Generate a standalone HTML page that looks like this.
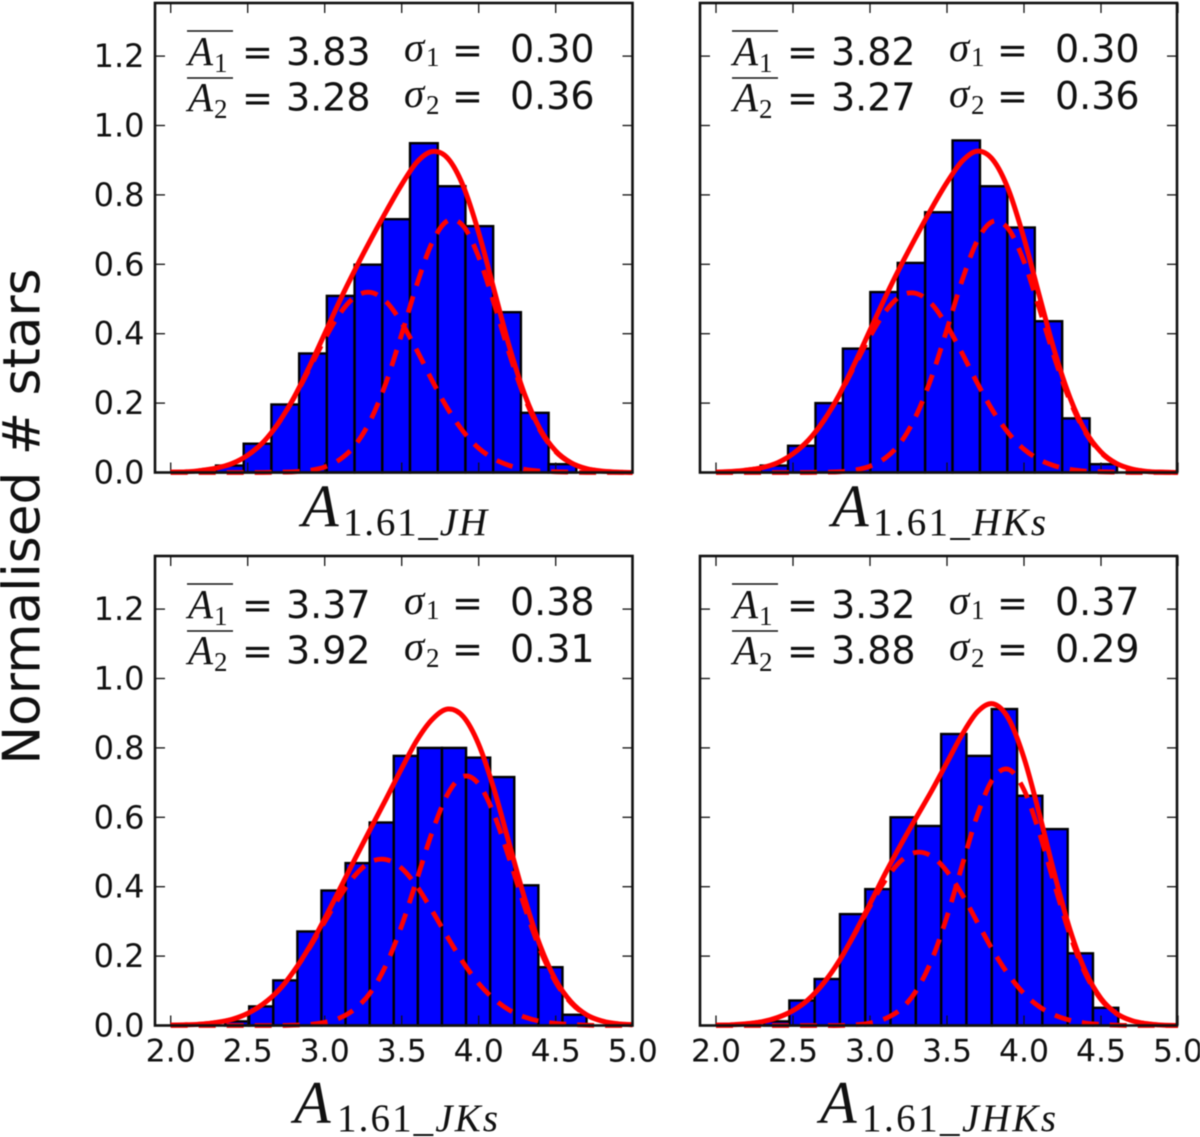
<!DOCTYPE html>
<html>
<head>
<meta charset="utf-8">
<title>Normalised extinction histograms</title>
<style>
html,body{margin:0;padding:0;background:#fff;width:1200px;height:1137px;overflow:hidden}
#chart{display:block;filter:blur(0.5px)}
</style>
</head>
<body>
<svg id="chart" xmlns="http://www.w3.org/2000/svg" width="1200" height="1137" viewBox="0 0 1200 1137">
<rect x="0" y="0" width="1200" height="1137" fill="#fff"/>
</svg>
<script>
// ---------- tick labels ----------
const xTickValues = [2.0, 2.5, 3.0, 3.5, 4.0, 4.5, 5.0];
const xTickLabels = ['2.0', '2.5', '3.0', '3.5', '4.0', '4.5', '5.0'];
const yTickValues = [0.0, 0.2, 0.4, 0.6, 0.8, 1.0, 1.2];
const yTickLabels = ['0.0', '0.2', '0.4', '0.6', '0.8', '1.0', '1.2'];

// ---------- shared x samples for the fitted curves ----------
const curveX = [2.0,2.1,2.2,2.3,2.4,2.5,2.6,2.7,2.8,2.9,3.0,3.1,3.2,3.3,3.4,3.5,3.6,3.7,3.8,3.9,4.0,4.1,4.2,4.3,4.4,4.5,4.6,4.7,4.8,4.9,5.0];

// ---------- histograms (first bin edge, bin width, normalised heights) ----------
const binStartJH = 2.294;
const binWidthJH = 0.18;
const barsJH = [.02,.083,.196,.343,.509,.599,.73,.949,.825,.71,.462,.172,.024];

const binStartHKs = 2.29;
const binWidthHKs = 0.178;
const barsHKs = [.02,.077,.2,.357,.52,.604,.75,.957,.825,.706,.436,.156,.024];

const binStartJKs = 2.353;
const binWidthJKs = 0.1565;
const barsJKs = [.012,.055,.13,.271,.389,.468,.585,.777,.80,.80,.772,.716,.404,.168,.031];

const binStartJHKs = 2.312;
const binWidthJHKs = 0.1643;
const barsJHKs = [.012,.072,.134,.321,.393,.60,.575,.84,.777,.912,.662,.566,.208,.051];

// ---------- fitted curves ----------
const totalJH = [.001,.002,.006,.013,.026,.050,.087,.143,.216,.304,.400,.497,.587,.672,.753,.830,.895,.925,.905,.825,.691,.526,.361,.223,.124,.062,.028,.011,.004,.001,0];
const lowJH = [.001,.002,.006,.013,.026,.050,.087,.142,.214,.298,.384,.459,.507,.519,.492,.431,.351,.263,.183,.118,.070,.039,.020,.009,.004,.002,.001,0,0,0,0];
const highJH = [0,0,0,0,0,0,0,.001,.002,.006,.016,.038,.080,.153,.261,.399,.544,.665,.726,.710,.621,.487,.341,.214,.120,.060,.027,.011,.004,.001,0];

const totalHKs = [.001,.003,.007,.014,.028,.054,.093,.150,.224,.314,.410,.506,.596,.680,.761,.836,.898,.926,.900,.814,.675,.509,.347,.214,.118,.059,.026,.010,.003,.001,0];
const lowHKs = [.001,.003,.007,.014,.028,.054,.093,.149,.222,.307,.392,.464,.509,.516,.486,.423,.342,.255,.176,.113,.067,.037,.019,.009,.004,.002,.001,0,0,0,0];
const highHKs = [0,0,0,0,0,0,0,.001,.002,.007,.018,.042,.087,.164,.275,.413,.556,.671,.724,.701,.608,.472,.328,.205,.114,.057,.025,.010,.003,.001,0];

const totalJKs = [.001,.002,.004,.009,.018,.035,.062,.101,.157,.226,.308,.395,.483,.569,.654,.741,.823,.883,.912,.890,.810,.680,.521,.364,.229,.131,.068,.031,.013,.005,.002];
const lowJKs = [.001,.002,.004,.009,.018,.035,.062,.101,.156,.223,.299,.373,.434,.472,.478,.453,.400,.329,.253,.181,.121,.076,.044,.024,.012,.006,.003,.001,0,0,0];
const highJKs = [0,0,0,0,0,0,0,0,.001,.003,.009,.022,.049,.097,.176,.288,.423,.560,.668,.718,.696,.608,.479,.340,.217,.125,.065,.030,.013,.005,.002];

const totalJHKs = [.001,.002,.005,.011,.023,.043,.075,.123,.186,.265,.351,.439,.521,.599,.676,.758,.840,.905,.927,.884,.771,.609,.433,.274,.155,.078,.035,.014,.005,.001,0];
const lowJHKs = [.001,.002,.005,.011,.023,.043,.075,.123,.186,.263,.344,.419,.474,.499,.488,.444,.376,.295,.215,.146,.092,.054,.030,.015,.007,.003,.001,0,0,0,0];
const highJHKs = [0,0,0,0,0,0,0,0,0,.002,.007,.020,.047,.100,.188,.314,.464,.610,.712,.738,.679,.555,.403,.259,.148,.075,.034,.014,.005,.001,0];

// ---------- printed fit results ----------
const meanTextJH = ['3.83', '3.28'];
const sigmaTextJH = ['0.30', '0.36'];
const meanTextHKs = ['3.82', '3.27'];
const sigmaTextHKs = ['0.30', '0.36'];
const meanTextJKs = ['3.37', '3.92'];
const sigmaTextJKs = ['0.38', '0.31'];
const meanTextJHKs = ['3.32', '3.88'];
const sigmaTextJHKs = ['0.37', '0.29'];

// ---------- panel layout ----------
const svg = document.getElementById('chart');
const NS = 'http://www.w3.org/2000/svg';
const SANS = '"DejaVu Sans","Liberation Sans",sans-serif';
const SERIF = '"Liberation Serif","DejaVu Serif",serif';

const panels = [
  {key:'jh', left:155, right:632.5, top:3, base:472.5, x2:170.7, bins:barsJH, start:binStartJH, width:binWidthJH, total:totalJH, low:lowJH, high:highJH, means:meanTextJH, sigmas:sigmaTextJH, sub:'JH', labelX:302, subX:343, subEnd:487, labelY:526.7, subY:535, dx:0, dy:0, xLabels:false},
  {key:'hks', left:700, right:1177, top:3, base:472.5, x2:716, bins:barsHKs, start:binStartHKs, width:binWidthHKs, total:totalHKs, low:lowHKs, high:highHKs, means:meanTextHKs, sigmas:sigmaTextHKs, sub:'HKs', labelX:832, subX:873, subEnd:1046, labelY:526.7, subY:535, dx:545, dy:0, xLabels:false},
  {key:'jks', left:155, right:632.5, top:556, base:1025.5, x2:170.7, bins:barsJKs, start:binStartJKs, width:binWidthJKs, total:totalJKs, low:lowJKs, high:highJKs, means:meanTextJKs, sigmas:sigmaTextJKs, sub:'JKs', labelX:294, subX:337, subEnd:498, labelY:1123, subY:1131, dx:0, dy:553, xLabels:true},
  {key:'jhks', left:700, right:1177, top:556, base:1025.5, x2:716, bins:barsJHKs, start:binStartJHKs, width:binWidthJHKs, total:totalJHKs, low:lowJHKs, high:highJHKs, means:meanTextJHKs, sigmas:sigmaTextJHKs, sub:'JHKs', labelX:820, subX:862, subEnd:1056, labelY:1123, subY:1131, dx:545, dy:553, xLabels:true}
];

const X_UNIT = 154;
const Y_UNIT = 347;

function xScale(p, v) { return p.x2 + X_UNIT * (v - 2); }
function yScale(p, v) { return p.base - Y_UNIT * v; }

function make(tag, attrs, parent, content) {
  const node = document.createElementNS(NS, tag);
  for (const k in attrs) node.setAttribute(k, attrs[k]);
  if (content !== undefined) node.textContent = content;
  parent.appendChild(node);
  return node;
}

function smoothPath(p, xs, ys) {
  const pts = xs.map((x, i) => [xScale(p, x), yScale(p, ys[i])]);
  let d = 'M' + pts[0][0].toFixed(2) + ' ' + pts[0][1].toFixed(2);
  for (let i = 0; i < pts.length - 1; i++) {
    const a = pts[Math.max(i - 1, 0)], b = pts[i], c = pts[i + 1], e = pts[Math.min(i + 2, pts.length - 1)];
    const c1x = b[0] + (c[0] - a[0]) / 6, c1y = b[1] + (c[1] - a[1]) / 6;
    const c2x = c[0] - (e[0] - b[0]) / 6, c2y = c[1] - (e[1] - b[1]) / 6;
    d += 'C' + c1x.toFixed(2) + ' ' + c1y.toFixed(2) + ' ' + c2x.toFixed(2) + ' ' + c2y.toFixed(2) + ' ' + c[0].toFixed(2) + ' ' + c[1].toFixed(2);
  }
  return d;
}

function drawPanel(p) {
  const g = make('g', {}, svg);
  
  

  const bg = make('rect', {x:p.left, y:p.top, width:p.right - p.left, height:p.base - p.top, fill:'#fff'}, g);
  
  

  // histogram bars
  p.bins.forEach((h, i) => {
    const x0 = xScale(p, p.start + i * p.width);
    const x1 = xScale(p, p.start + (i + 1) * p.width);
    const y0 = yScale(p, h);
    const bar = make('rect', {x:x0, y:y0, width:x1 - x0, height:p.base - y0, fill:'#0000ff', stroke:'#000', 'stroke-width':2.4}, g);
    
    
  });

  // ticks
  xTickValues.forEach((v, i) => {
    const x = xScale(p, v);
    const bottomTick = make('line', {x1:x, x2:x, y1:p.base, y2:p.base - 10, stroke:'#111', 'stroke-width':1.3}, g);
    
    
    const topTick = make('line', {x1:x, x2:x, y1:p.top, y2:p.top + 10, stroke:'#111', 'stroke-width':1.3}, g);
    
    
    if (p.xLabels) {
      const label = make('text', {x:x, y:1061.5, 'text-anchor':'middle', 'font-family':SANS, 'font-size':31.5, fill:'#111'}, g, xTickLabels[i]);
      
      
    }
  });
  yTickValues.forEach((v, i) => {
    const y = yScale(p, v);
    const leftTick = make('line', {x1:p.left, x2:p.left + 10, y1:y, y2:y, stroke:'#111', 'stroke-width':1.3}, g);
    
    
    const rightTick = make('line', {x1:p.right, x2:p.right - 10, y1:y, y2:y, stroke:'#111', 'stroke-width':1.3}, g);
    
    
    if (p.left < 200) {
      const label = make('text', {x:144.5, y:y + 11, 'text-anchor':'end', 'font-family':SANS, 'font-size':32, fill:'#111'}, g, yTickLabels[i]);
      
      
    }
  });

  // fitted curves
  const lowLine = make('path', {d:smoothPath(p, curveX, p.low), fill:'none', stroke:'#ff0000', 'stroke-width':4.8, 'stroke-dasharray':'17 11'}, g);
  
  
  const highLine = make('path', {d:smoothPath(p, curveX, p.high), fill:'none', stroke:'#ff0000', 'stroke-width':4.8, 'stroke-dasharray':'17 11'}, g);
  
  
  const totalLine = make('path', {d:smoothPath(p, curveX, p.total), fill:'none', stroke:'#ff0000', 'stroke-width':5}, g);
  
  

  // axes frame
  const frame = make('rect', {x:p.left, y:p.top, width:p.right - p.left, height:p.base - p.top, fill:'none', stroke:'#111', 'stroke-width':2.6}, g);
  
  

  // annotation block
  const rows = [{bar:31, a:65, sub:72, n:65, eq:65, s:61, ss:66, v:62}, {bar:78, a:111, sub:118, n:110.5, eq:111, s:107, ss:114, v:109}];
  rows.forEach((r, i) => {
    const group = make('g', {}, g);
    
    
    const over = make('line', {x1:187 + p.dx, x2:233 + p.dx, y1:r.bar + p.dy, y2:r.bar + p.dy, stroke:'#111', 'stroke-width':1.6}, group);
    
    
    const meanSym = make('text', {x:188 + p.dx, y:r.a + p.dy, 'font-family':SERIF, 'font-style':'italic', 'font-size':41, fill:'#111'}, group, 'A');
    
    
    const meanIdx = make('text', {x:214 + p.dx, y:r.sub + p.dy, 'font-family':SERIF, 'font-size':27, fill:'#111'}, group, String(i + 1));
    
    
    const eqA = make('text', {x:242 + p.dx, y:r.eq + p.dy, 'font-family':SANS, 'font-size':37, fill:'#111'}, group, '=');
    
    
    const meanVal = make('text', {x:286 + p.dx, y:r.n + p.dy, 'font-family':SANS, 'font-size':38, fill:'#111'}, group, p.means[i]);
    
    
    const sigSym = make('text', {x:404 + p.dx, y:r.s + p.dy, 'font-family':SERIF, 'font-style':'italic', 'font-size':41, fill:'#111'}, group, 'σ');
    
    
    const sigIdx = make('text', {x:426 + p.dx, y:r.ss + p.dy, 'font-family':SERIF, 'font-size':27, fill:'#111'}, group, String(i + 1));
    
    
    const eqS = make('text', {x:452 + p.dx, y:r.s + 2 + p.dy, 'font-family':SANS, 'font-size':37, fill:'#111'}, group, '=');
    
    
    const sigVal = make('text', {x:510 + p.dx, y:r.v + p.dy, 'font-family':SANS, 'font-size':38, fill:'#111'}, group, p.sigmas[i]);
    
    
  });

  // x axis label
  const xA = make('text', {x:p.labelX, y:p.labelY, 'font-family':SERIF, 'font-style':'italic', 'font-size':60, fill:'#111'}, g, 'A');
  
  
  const xSub = make('text', {x:p.subX, y:p.subY, 'font-family':SERIF, 'font-size':39, fill:'#111', textLength:p.subEnd - p.subX, lengthAdjust:'spacing'}, g);
  
  
  make('tspan', {}, xSub, '1.61');
  make('tspan', {'font-style':'italic'}, xSub, '_' + p.sub);
}

panels.forEach(drawPanel);

const yTitle = make('text', {x:0, y:0, transform:'translate(39.5 516.5) rotate(-90)', 'text-anchor':'middle', 'font-family':SANS, 'font-size':51.7, fill:'#111'}, svg, 'Normalised # stars');


</script>
</body>
</html>
